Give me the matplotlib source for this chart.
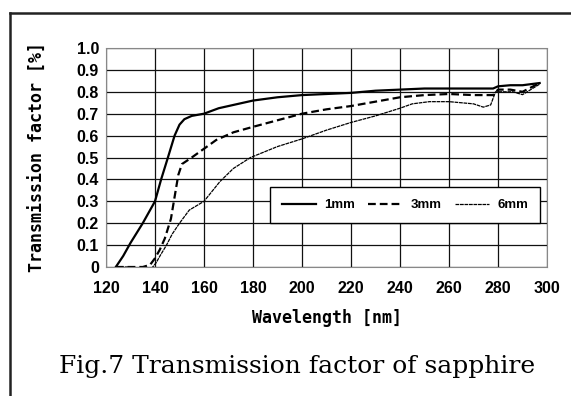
import matplotlib
matplotlib.use("Agg")
import matplotlib.pyplot as plt
from matplotlib.lines import Line2D

# transmission curves (wavelength nm, transmission)
wl_1mm = [124, 127, 130, 135, 140, 142.5, 145, 148, 150, 152, 155, 160, 166, 172,
          180, 190, 200, 210, 220, 230, 240, 250, 260, 270, 278, 280, 285, 290, 297]
t_1mm = [0.0, 0.05, 0.11, 0.20, 0.30, 0.40, 0.49, 0.60, 0.65, 0.675, 0.69, 0.70, 0.725, 0.74,
         0.76, 0.775, 0.785, 0.79, 0.795, 0.805, 0.81, 0.815, 0.815, 0.815, 0.815, 0.825, 0.83, 0.83, 0.84]

wl_3mm = [124, 130, 135, 138, 140, 142, 144, 146.5, 148, 149.5, 151, 155, 160, 165, 172,
          180, 190, 200, 210, 220, 230, 240, 250, 260, 270, 278, 280, 285, 290, 297]
t_3mm = [0.0, 0.0, 0.0, 0.01, 0.04, 0.08, 0.13, 0.22, 0.32, 0.42, 0.47, 0.50, 0.54, 0.58, 0.615,
         0.64, 0.67, 0.70, 0.72, 0.735, 0.755, 0.775, 0.785, 0.79, 0.785, 0.785, 0.81, 0.81, 0.80, 0.84]

wl_6mm = [124, 130, 134, 136.5, 138.5, 140.5, 142, 144.7, 147, 150, 154, 160, 166.5, 172, 179,
          190, 200, 210, 220, 230, 240, 245, 252, 260, 265, 270, 274, 277, 279, 281, 286, 290, 297]
t_6mm = [0.0, 0.0, -0.005, -0.012, -0.008, 0.02, 0.05, 0.10, 0.15, 0.20, 0.26, 0.30, 0.39, 0.45, 0.50,
         0.55, 0.585, 0.625, 0.66, 0.69, 0.725, 0.745, 0.755, 0.755, 0.75, 0.745, 0.73, 0.74, 0.80, 0.80, 0.80, 0.787, 0.835]

x_ticks = [120, 140, 160, 180, 200, 220, 240, 260, 280, 300]
y_ticks = [0, 0.1, 0.2, 0.3, 0.4, 0.5, 0.6, 0.7, 0.8, 0.9, 1.0]
y_ticklabels = ["0", "0.1", "0.2", "0.3", "0.4", "0.5", "0.6", "0.7", "0.8", "0.9", "1.0"]
labels = ["1mm", "3mm", "6mm"]

tick_font = "Liberation Sans"
mono_font = "DejaVu Sans Mono"

fig = plt.figure(figsize=(5.71, 3.96), dpi=100)
ax = fig.add_axes([106 / 571, 1 - 267 / 396, 441 / 571, 219 / 396])

ax.plot(wl_1mm, t_1mm, color="black", linewidth=1.6, label=labels[0])
ax.plot(wl_3mm, t_3mm, color="black", linewidth=1.6, linestyle=(0, (3.5, 1.8)), label=labels[1])
ax.plot(wl_6mm, t_6mm, color="black", linewidth=0.9, linestyle=(0, (3, 0.6)), label=labels[2])

ax.set_xlim(120, 300)
ax.set_ylim(0, 1.0)
ax.set_xticks(x_ticks)
ax.set_yticks(y_ticks)
ax.set_yticklabels(y_ticklabels)
ax.grid(True, color="#111111", linewidth=0.9)
ax.tick_params(length=0)
ax.tick_params(axis="x", pad=10)
ax.tick_params(axis="y", pad=5)
for lbl in ax.get_xticklabels() + ax.get_yticklabels():
    lbl.set_family(tick_font)
    lbl.set_fontweight("bold")
    lbl.set_fontsize(11.5)
for sp in ax.spines.values():
    sp.set_color("#888888")
    sp.set_linestyle((0, (1, 1)))
    sp.set_linewidth(0.8)

ax.set_ylabel("Transmission factor [%]", fontfamily=mono_font, fontweight="bold",
              fontsize=12)
ax.yaxis.set_label_coords(-59 / 441, 0.5)
fig.text(327 / 571, 1 - 318 / 396, "Wavelength [nm]", fontfamily=mono_font,
         fontweight="bold", fontsize=12, ha="center", va="center")
fig.text(297 / 571, 1 - 367 / 396, "Fig.7 Transmission factor of sapphire",
         fontfamily="DejaVu Serif", fontsize=18, ha="center", va="center")

leg = ax.legend(loc="center", bbox_to_anchor=(405 / 571, 1 - 205 / 396),
                bbox_transform=fig.transFigure, ncol=3, fancybox=False,
                framealpha=1, edgecolor="black", handlelength=2.6,
                handletextpad=0.6, columnspacing=1.0, borderpad=0.9,
                prop={"family": tick_font, "weight": "bold", "size": 9.5})
leg.get_frame().set_linewidth(1.0)

# page frame (left and top rules)
fig.add_artist(Line2D([10 / 571, 10 / 571], [0, 1 - 13 / 396], color="#222222",
                      linewidth=1.8, transform=fig.transFigure))
fig.add_artist(Line2D([10 / 571, 1], [1 - 13 / 396, 1 - 13 / 396], color="#222222",
                      linewidth=1.8, transform=fig.transFigure))

fig.savefig("out.png", dpi=100)
